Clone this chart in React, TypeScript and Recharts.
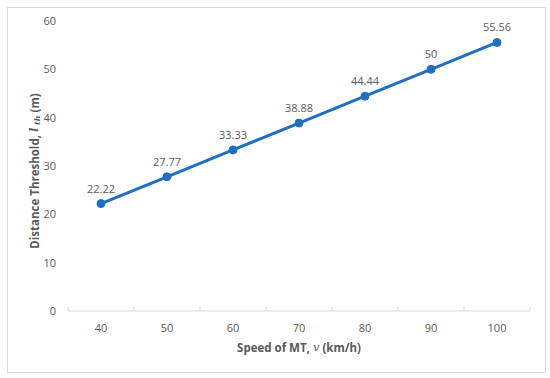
import React from 'react';
import { LineChart, Line, XAxis, YAxis, LabelList } from 'recharts';

const speeds = [40, 50, 60, 70, 80, 90, 100];
const thresholds = [22.22, 27.77, 33.33, 38.88, 44.44, 50, 55.56];
const labelTexts = ['22.22', '27.77', '33.33', '38.88', '44.44', '50', '55.56'];
const yTicks = [0, 10, 20, 30, 40, 50, 60];
const xTicks = [35, 40, 45, 50, 55, 60, 65, 70, 75, 80, 85, 90, 95, 100, 105];

const data = speeds.map((s, i) => ({ speed: s, value: thresholds[i], label: labelTexts[i] }));

const GRAY = '#595959';
const BLUE = '#1F6FC0';
const FONT = '"Open Sans", sans-serif';

const XTick = (props: any) => {
  const { x, y, payload } = props;
  const v = payload.value;
  if (v % 10 === 5) {
    return <line x1={x} x2={x} y1={y} y2={y - 4} stroke="#d9d9d9" strokeWidth={1} />;
  }
  return (
    <text x={x} y={y + 16} textAnchor="middle" dominantBaseline="central" fill={GRAY} fontSize={11} fontFamily={FONT}>
      {v}
    </text>
  );
};

const XTitle = (props: any) => {
  const vb = props.viewBox;
  const cx = vb.x + vb.width / 2;
  const cy = vb.y + 36;
  return (
    <text x={cx} y={cy} textAnchor="middle" dominantBaseline="central" fill={GRAY} fontSize={11.5} fontWeight="bold" fontFamily={FONT}>
      <tspan>Speed of MT, </tspan>
      <tspan fontFamily="'DejaVu Serif', serif" fontStyle="italic" fontWeight="normal">v</tspan>
      <tspan> (km/h)</tspan>
    </text>
  );
};

const YTitle = (props: any) => {
  const vb = props.viewBox;
  const cx = 34;
  const cy = vb.y + vb.height / 2 + 5;
  return (
    <text x={cx} y={cy} transform={`rotate(-90 ${cx} ${cy})`} textAnchor="middle" dominantBaseline="central" fill={GRAY} fontSize={11.5} fontWeight="bold" fontFamily={FONT}>
      <tspan>Distance Threshold, </tspan>
      <tspan fontFamily="'DejaVu Serif', serif" fontStyle="italic">l</tspan>
      <tspan fontFamily="'DejaVu Serif', serif" fontStyle="italic" fontSize={8} dy={3}> th</tspan>
      <tspan dy={-3}> (m)</tspan>
    </text>
  );
};

export default function App() {
  return (
    <div style={{ position: 'absolute', left: 0, top: 0, width: 550, height: 378, background: '#fff' }}>
      <div style={{ position: 'absolute', left: 7, top: 7, width: 537, height: 364, border: '1px solid #d9d9d9' }} />
      <div style={{ position: 'absolute', left: 0, top: 0 }}>
        <LineChart width={550} height={378} data={data} margin={{ top: 21, right: 20, bottom: 37, left: 0 }} style={{ fontFamily: FONT }}>
          <XAxis
            dataKey="speed"
            type="number"
            domain={[35, 105]}
            ticks={xTicks}
            interval={0}
            height={30}
            tickLine={false}
            tickSize={0}
            tickMargin={0}
            axisLine={{ stroke: '#d9d9d9' }}
            tick={<XTick />}
            label={{ content: <XTitle /> } as any}
          />
          <YAxis
            type="number"
            domain={[0, 60]}
            ticks={yTicks}
            interval={0}
            width={68}
            axisLine={false}
            tickLine={false}
            tickSize={0}
            tickMargin={12}
            tick={{ fill: GRAY, fontSize: 11, fontFamily: FONT }}
            label={{ content: <YTitle /> } as any}
          />
          <Line
            type="linear"
            dataKey="value"
            stroke={BLUE}
            strokeWidth={3}
            dot={{ r: 4, fill: BLUE, stroke: BLUE, strokeWidth: 1 }}
            activeDot={false}
            isAnimationActive={false}
          >
            <LabelList dataKey="label" position="top" offset={11} fill={GRAY} fontSize={11} fontFamily={FONT} />
          </Line>
        </LineChart>
      </div>
    </div>
  );
}
